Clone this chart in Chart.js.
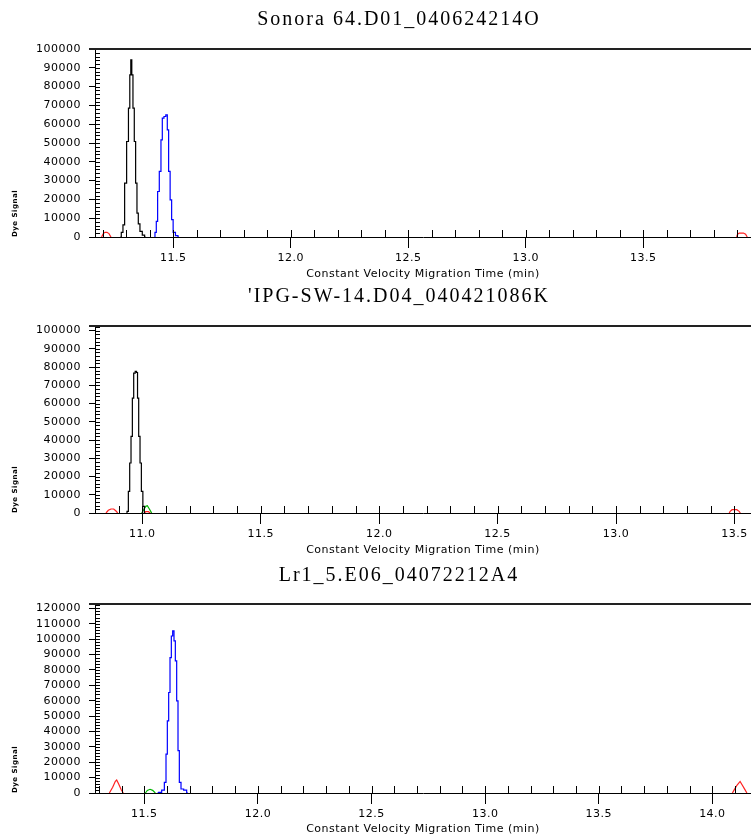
<!DOCTYPE html>
<html>
<head>
<meta charset="utf-8">
<title>Dye signal traces</title>
<script src="https://cdn.jsdelivr.net/npm/chart.js@4/dist/chart.umd.min.js"></script>
<style>
    html, body { margin: 0; padding: 0; background: #ffffff; }
    #wrap { position: relative; width: 751px; height: 837px; overflow: hidden; }
    canvas { position: absolute; left: 0; }
</style>
</head>
<body>
<div id="wrap">
    <canvas id="c1" width="751" height="280" style="top:0px"></canvas>
    <canvas id="c2" width="751" height="280" style="top:276px"></canvas>
    <canvas id="c3" width="751" height="282" style="top:555px"></canvas>
</div>
<script>
"use strict";

// ---- data ----

const titles = [
    "Sonora 64.D01_040624214O",
    "'IPG-SW-14.D04_040421086K",
    "Lr1_5.E06_04072212A4",
];

const xLabel = "Constant Velocity Migration Time (min)";
const yLabel = "Dye Signal";

// axis ranges
const xRange1 = [11.167, 13.958];
const xRange2 = [10.8, 13.57];
const xRange3 = [11.283, 14.17];
const yMax1 = 100000;
const yMax2 = 102500;
const yMax3 = 122800;

// tick labels
const xTicks1 = [11.5, 12.0, 12.5, 13.0, 13.5];
const xTicks2 = [11.0, 11.5, 12.0, 12.5, 13.0, 13.5];
const xTicks3 = [11.5, 12.0, 12.5, 13.0, 13.5, 14.0];
const yTicks1 = [0, 10000, 20000, 30000, 40000, 50000, 60000, 70000, 80000, 90000, 100000];
const yTicks2 = yTicks1;
const yTicks3 = [0, 10000, 20000, 30000, 40000, 50000, 60000, 70000, 80000, 90000, 100000, 110000, 120000];

// panel 1
const p1BlackTime = [11.2746, 11.2831, 11.2888, 11.2973, 11.3058, 11.3129, 11.3172, 11.3214, 11.3257, 11.3313, 11.3370, 11.3427, 11.3484, 11.3540, 11.3625, 11.3739, 11.3824];
const p1BlackSignal = [0, 2500, 6500, 28700, 50800, 68500, 86200, 94200, 86200, 68500, 50800, 28700, 12700, 7000, 3000, 1000, 0];
const p1BlueTime = [11.4193, 11.4250, 11.4306, 11.4363, 11.4448, 11.4505, 11.4562, 11.4647, 11.4718, 11.4774, 11.4831, 11.4902, 11.4959, 11.5030, 11.5157, 11.5242];
const p1BlueSignal = [0, 2500, 8300, 24200, 34900, 51700, 63200, 64100, 65000, 57000, 34900, 19800, 9200, 2500, 700, 0];
const p1RedTime = [11.195, 11.2023, 11.2094, 11.2179, 11.2264, 11.2349];
const p1RedSignal = [0, 1800, 2500, 2500, 1800, 0];
const p1Red2Time = [13.897, 13.901, 13.908, 13.926, 13.935, 13.942];
const p1Red2Signal = [0, 1500, 2100, 2100, 1500, 0];

// panel 2
const p2BlackTime = [10.9324, 10.9380, 10.9437, 10.9493, 10.9549, 10.9606, 10.9662, 10.9732, 10.9775, 10.9817, 10.9873, 10.9930, 10.9986, 11.0056, 11.0113];
const p2BlackSignal = [0, 900, 11900, 27400, 42000, 63000, 76700, 77600, 77000, 63000, 42000, 27400, 11900, 3650, 0];
const p2GreenTime = [10.9972, 11.0056, 11.0141, 11.0211, 11.0296, 11.0394];
const p2GreenSignal = [0, 1800, 3650, 4000, 2200, 0];
const p2RedTime = [10.8465, 10.8563, 10.8676, 10.8789, 10.8887, 10.8958];
const p2RedSignal = [0, 1500, 2200, 2200, 1100, 0];
const p2Red2Time = [11.0085, 11.0141, 11.0254, 11.0338];
const p2Red2Signal = [0, 700, 700, 0];
const p2Red3Time = [13.478, 13.482, 13.490, 13.510, 13.520, 13.525];
const p2Red3Signal = [0, 900, 1800, 1800, 900, 0];

// panel 3
const p3BlueTime = [11.5573, 11.5691, 11.5838, 11.5926, 11.5984, 11.6043, 11.6102, 11.6160, 11.6219, 11.6278, 11.6336, 11.6395, 11.6454, 11.6512, 11.6571, 11.6659, 11.6806, 11.6923];
const p3BlueSignal = [0, 400, 1900, 6900, 25300, 46900, 65300, 88000, 102000, 105300, 98800, 85800, 59900, 27500, 6900, 2600, 1900, 0];
const p3RedTime = [11.3461, 11.3608, 11.3725, 11.3784, 11.3872, 11.3989, 11.4077];
const p3RedSignal = [0, 3700, 7600, 8400, 5800, 1950, 0];
const p3GreenTime = [11.5045, 11.5133, 11.5251, 11.5368, 11.5485];
const p3GreenSignal = [0, 1700, 2400, 1700, 0];
const p3Red2Time = [14.088, 14.098, 14.108, 14.122, 14.132, 14.142, 14.152];
const p3Red2Signal = [0, 2500, 5000, 7500, 5000, 2500, 0];

// ---- drawing ----

const BLACK = "#000000";
const BLUE = "#0000ff";
const RED = "#ff2020";
const GREEN = "#00b400";

const tickFont = { family: "'DejaVu Sans', sans-serif", size: 11 };

const toPoints = (xs, ys) => xs.map((x, i) => ({ x: x, y: ys[i] }));

const trace = (xs, ys, color, stepped) => ({
    data: toPoints(xs, ys),
    borderColor: color,
    borderWidth: 1.2,
    pointRadius: 0,
    tension: 0,
    fill: false,
    stepped: stepped ? "middle" : false,
});

// minor ticks, top frame line and the panel title
const decor = {
    id: "decor",
    beforeDraw(chart) {
        chart.ctx.letterSpacing = "0.5px";
    },
    afterDraw(chart, args, opts) {
        const ctx = chart.ctx;
        const a = chart.chartArea;
        const xs = chart.scales.x;
        const ys = chart.scales.y;
        ctx.save();
        ctx.strokeStyle = "#000";
        ctx.lineWidth = 1;
        ctx.beginPath();
        for (let k = Math.ceil(xs.min * 10); k <= Math.floor(xs.max * 10); k++) {
            const px = Math.round(xs.getPixelForValue(k / 10)) + 0.5;
            ctx.moveTo(px, a.bottom);
            ctx.lineTo(px, a.bottom - 7);
        }
        for (let v = 0; v <= ys.max; v += 2000) {
            const py = Math.round(ys.getPixelForValue(v)) + 0.5;
            ctx.moveTo(a.left, py);
            ctx.lineTo(a.left + 5, py);
        }
        ctx.stroke();

        ctx.strokeStyle = "#222";
        ctx.lineWidth = 2;
        ctx.beginPath();
        ctx.moveTo(a.left - 6, a.top);
        ctx.lineTo(a.right, a.top);
        ctx.stroke();

        ctx.letterSpacing = "2px";
        ctx.font = "20px 'Liberation Serif', serif";
        ctx.fillStyle = "#000";
        ctx.textAlign = "center";
        ctx.textBaseline = "middle";
        ctx.fillText(opts.text, 399, opts.y);
        ctx.restore();
    },
};

const makePanel = (id, p) => {
    const ctx = document.getElementById(id).getContext("2d");
    return new Chart(ctx, {
        type: "line",
        data: { datasets: p.datasets },
        options: {
            responsive: false,
            animation: false,
            events: [],
            layout: { padding: { top: p.plotTop, left: 0, right: 0, bottom: 0 } },
            plugins: {
                legend: { display: false },
                tooltip: { enabled: false },
                decor: { text: p.title, y: p.titleY },
            },
            scales: {
                x: {
                    type: "linear",
                    min: p.xRange[0],
                    max: p.xRange[1],
                    afterBuildTicks: (s) => {
                        s.ticks = p.xTicks.map((v) => ({ value: v }));
                    },
                    afterFit: (s) => {
                        s.height = p.height - p.plotBottom;
                    },
                    ticks: {
                        callback: (v) => Number(v).toFixed(1),
                        font: tickFont,
                        color: "#000",
                        padding: 4,
                        maxRotation: 0,
                        autoSkip: false,
                    },
                    grid: { drawOnChartArea: false, drawTicks: true, tickLength: 11, color: "#000" },
                    border: { display: true, color: "#000", width: 1 },
                    title: {
                        display: true,
                        text: xLabel,
                        color: "#000",
                        font: { family: "'DejaVu Sans', sans-serif", size: 11, lineHeight: 1 },
                        padding: { top: 0, bottom: p.xTitlePad },
                    },
                },
                y: {
                    type: "linear",
                    min: 0,
                    max: p.yMax,
                    afterBuildTicks: (s) => {
                        s.ticks = p.yTicks.map((v) => ({ value: v }));
                    },
                    afterFit: (s) => {
                        s.width = 95;
                    },
                    ticks: {
                        callback: (v) => String(v),
                        font: tickFont,
                        color: "#000",
                        padding: 8,
                        autoSkip: false,
                    },
                    grid: { drawOnChartArea: false, drawTicks: true, tickLength: 6, color: "#000" },
                    border: { display: true, color: "#000", width: 1 },
                    title: {
                        display: true,
                        text: yLabel,
                        align: "start",
                        color: "#000",
                        font: { family: "'DejaVu Sans', sans-serif", size: 7, weight: "bold" },
                        padding: { top: 11, bottom: 0 },
                    },
                },
            },
        },
        plugins: [decor],
    });
};

makePanel("c1", {
    title: titles[0], titleY: 20, height: 280, plotTop: 49, plotBottom: 237, xTitlePad: 0,
    xRange: xRange1, xTicks: xTicks1, yMax: yMax1, yTicks: yTicks1,
    datasets: [
        trace(p1RedTime, p1RedSignal, RED, false),
        trace(p1Red2Time, p1Red2Signal, RED, false),
        trace(p1BlackTime, p1BlackSignal, BLACK, true),
        trace(p1BlueTime, p1BlueSignal, BLUE, true),
    ],
});

makePanel("c2", {
    title: titles[1], titleY: 21, height: 280, plotTop: 50, plotBottom: 237, xTitlePad: 0,
    xRange: xRange2, xTicks: xTicks2, yMax: yMax2, yTicks: yTicks2,
    datasets: [
        trace(p2RedTime, p2RedSignal, RED, false),
        trace(p2Red3Time, p2Red3Signal, RED, false),
        trace(p2BlackTime, p2BlackSignal, BLACK, true),
        trace(p2GreenTime, p2GreenSignal, GREEN, false),
        trace(p2Red2Time, p2Red2Signal, RED, false),
    ],
});

makePanel("c3", {
    title: titles[2], titleY: 21, height: 282, plotTop: 49, plotBottom: 238, xTitlePad: 2.5,
    xRange: xRange3, xTicks: xTicks3, yMax: yMax3, yTicks: yTicks3,
    datasets: [
        trace(p3RedTime, p3RedSignal, RED, false),
        trace(p3Red2Time, p3Red2Signal, RED, false),
        trace(p3GreenTime, p3GreenSignal, GREEN, false),
        trace(p3BlueTime, p3BlueSignal, BLUE, true),
    ],
});
</script>
</body>
</html>
